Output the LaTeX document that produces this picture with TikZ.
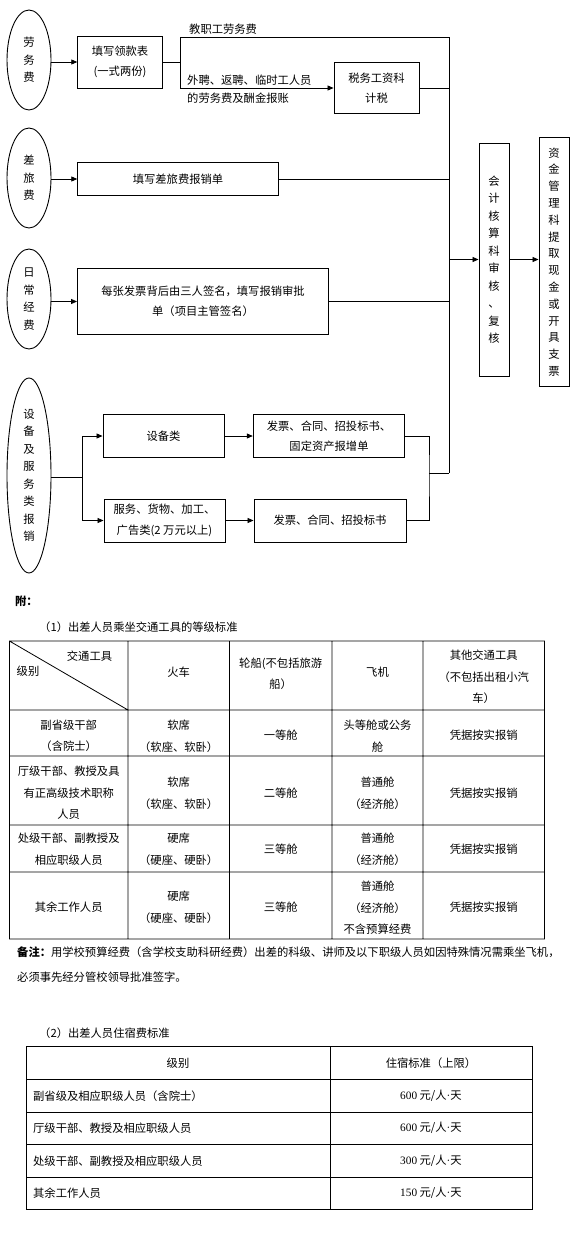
\documentclass[tikz,border=0pt]{standalone}
\usepackage{fontspec}
\setmainfont{Noto Sans CJK SC}
\newfontfamily\latinsz{Liberation Serif}
\usetikzlibrary{arrows.meta,shapes.geometric,positioning}

\newcommand\boxsz{\fontsize{11.3}{20.5}\selectfont}
\newcommand\colsz{\fontsize{11.3}{17.5}\selectfont}
\newcommand\cellsz{\fontsize{11.3}{21.5}\selectfont}
\newcommand\perday[1]{{\latinsz #1} 元/人{\latinsz ·}天}

\begin{document}
\begin{tikzpicture}[x=1pt,y=-1pt,
  box/.style={draw,line width=0.9pt,inner sep=0pt,align=center,font=\boxsz},
  oval/.style={draw,ellipse,line width=0.9pt,inner sep=0pt,minimum width=44pt,align=center,font=\colsz},
  col/.style={draw,line width=0.9pt,inner sep=0pt,minimum width=30pt,align=center,font=\colsz},
  link/.style={line width=0.8pt},
  arr/.style={line width=0.8pt,-{Triangle[length=6pt,width=5pt]}},
  cell/.style={inner sep=0pt,align=center,font=\cellsz},
  note/.style={inner sep=0pt,anchor=west,font=\boxsz}]
\fill[white] (0,0) rectangle (585,1240);

\node[oval,minimum height=100pt] (lwf) at (29,60) {劳\\务\\费};
\node[box,minimum width=84.5pt,minimum height=52pt] (lkb) at (120,62) {填写领款表\\(一式两份)};
\node[box,minimum width=85pt,minimum height=51.5pt] (sws) at (376.5,88) {税务工资科\\计税};
\node[oval,minimum height=100pt] (clf) at (29,178) {差\\旅\\费};
\node[box,minimum width=200.5pt,minimum height=33.5pt] (clb) at (178,179) {填写差旅费报销单};
\node[oval,minimum height=100pt] (rcf) at (29,299) {日\\常\\经\\费};
\node[box,minimum width=251pt,minimum height=66pt] (rcb) at (203,301.5) {每张发票背后由三人签名，填写报销审批\\单（项目主管签名）};
\node[oval,minimum height=195pt] (sbf) at (29,475.5) {设\\备\\及\\服\\务\\类\\报\\销};
\node[box,minimum width=121pt,minimum height=43pt] (sbl) at (163.5,436) {设备类};
\node[box,minimum width=151.5pt,minimum height=43pt] (fpa) at (329,436) {发票、合同、招投标书、\\固定资产报增单};
\node[box,minimum width=121pt,minimum height=43pt] (fwl) at (164.5,520.5) {服务、货物、加工、\\广告类(2 万元以上)};
\node[box,minimum width=152pt,minimum height=43pt] (fpb) at (330,520.5) {发票、合同、招投标书};
\node[col,minimum height=233pt] (kjk) at (494,259.5) {会\\计\\核\\算\\科\\审\\核\\、\\复\\核};
\node[col,minimum height=249.5pt,font=\fontsize{11.3}{16.8}\selectfont] (zjk) at (554,262) {资\\金\\管\\理\\科\\提\\取\\现\\金\\或\\开\\具\\支\\票};
\node[note] (jzg) at (189,29) {教职工劳务费};
\node[note,align=left,font=\fontsize{11.3}{17.5}\selectfont] (wpl) at (187,89) {外聘、返聘、临时工人员\\的劳务费及酬金报账};

\coordinate (br) at (180,62);
\coordinate (bt) at (180,37);
\coordinate (bb) at (180,88);
\coordinate (bus) at (449,37);
\coordinate (busb) at (449,473);
\coordinate (sp) at (82,477);
\coordinate (jn) at (429,473);

\draw[arr] (lkb.west -| lwf.east) -- (lkb.west);
\draw[link] (lkb) -- (br) (bt) -- (bb) (bt) -- (bus) -- (busb);
\draw[arr] (bb) -- (sws);
\draw[link] (sws) -- (sws -| bus);
\draw[arr] (clb.west -| clf.east) -- (clb.west);
\draw[link] (clb) -- (clb -| bus);
\draw[arr] (rcb.west -| rcf.east) -- (rcb.west);
\draw[link] (rcb) -- (rcb -| bus);
\draw[arr] (kjk.west -| bus) -- (kjk.west);
\draw[arr] (kjk.east) -- (kjk.east -| zjk.west);
\draw[link] (sp -| sbf.east) -- (sp);
\draw[arr] (sp) |- (sbl.west);
\draw[arr] (sp) |- (fwl.west);
\draw[arr] (sbl) -- (fpa);
\draw[arr] (fwl) -- (fpb);
\draw[link] (fpa) -| (jn) |- (fpb) (jn) -- (busb);

\node[note,font=\bfseries\boxsz] (fu) at (15,601) {附：};
\node[note] (tbla) at (39,627) {（1）出差人员乘坐交通工具的等级标准};
\draw[link] (9.4,641) rectangle (544.5,939)
  (9.4,710) -- (544.5,710) (9.4,756) -- (544.5,756)
  (9.4,825) -- (544.5,825) (9.4,872) -- (544.5,872)
  (128,641) -- (128,939) (229.5,641) -- (229.5,939)
  (332,641) -- (332,939) (423,641) -- (423,939)
  (9.4,641) -- (128,710);
\node[cell] (hjt) at (89.5,656) {交通工具};
\node[cell] (hjb) at (28,671) {级别};
\node[cell] (hhc) at (178.7,672) {火车};
\node[cell] (hlc) at (280.7,674) {轮船(不包括旅游\\船）};
\node[cell] (hfj) at (377.5,672) {飞机};
\node[cell] (hqt) at (483.7,677) {其他交通工具\\（不包括出租小汽\\车）};
\node[cell] (ra1) at (68.7,736) {副省级干部\\（含院士）};
\node[cell] (ra2) at (178.7,736) {软席\\（软座、软卧）};
\node[cell] (ra3) at (280.7,735) {一等舱};
\node[cell] (ra4) at (377.5,736) {头等舱或公务\\舱};
\node[cell] (ra5) at (483.7,735) {凭据按实报销};
\node[cell] (rb1) at (68.7,793) {厅级干部、教授及具\\有正高级技术职称\\人员};
\node[cell] (rb2) at (178.7,793) {软席\\（软座、软卧）};
\node[cell] (rb3) at (280.7,793) {二等舱};
\node[cell] (rb4) at (377.5,793) {普通舱\\（经济舱）};
\node[cell] (rb5) at (483.7,793) {凭据按实报销};
\node[cell] (rc1) at (68.7,849) {处级干部、副教授及\\相应职级人员};
\node[cell] (rc2) at (178.7,849) {硬席\\（硬座、硬卧）};
\node[cell] (rc3) at (280.7,849) {三等舱};
\node[cell] (rc4) at (377.5,849) {普通舱\\（经济舱）};
\node[cell] (rc5) at (483.7,849) {凭据按实报销};
\node[cell] (rd1) at (68.7,907) {其余工作人员};
\node[cell] (rd2) at (178.7,907) {硬席\\（硬座、硬卧）};
\node[cell] (rd3) at (280.7,907) {三等舱};
\node[cell] (rd4) at (377.5,908) {普通舱\\（经济舱）\\不含预算经费};
\node[cell] (rd5) at (483.7,907) {凭据按实报销};
\node[note] (bza) at (17,952) {\textbf{备注：}用学校预算经费（含学校支助科研经费）出差的科级、讲师及以下职级人员如因特殊情况需乘坐飞机，};
\node[note] (bzb) at (17,977) {必须事先经分管校领导批准签字。};

\node[note] (tblb) at (39,1033) {（2）出差人员住宿费标准};
\draw[link] (26,1046) rectangle (532,1209)
  (26,1079) -- (532,1079) (26,1112) -- (532,1112)
  (26,1144) -- (532,1144) (26,1177) -- (532,1177)
  (330,1046) -- (330,1209);
\node[cell] (sjb) at (178,1063) {级别};
\node[cell] (szs) at (431,1063) {住宿标准（上限）};
\node[note] (sa1) at (33,1096) {副省级及相应职级人员（含院士）};
\node[cell] (sa2) at (431,1096) {\perday{600}};
\node[note] (sb1) at (33,1128) {厅级干部、教授及相应职级人员};
\node[cell] (sb2) at (431,1128) {\perday{600}};
\node[note] (sc1) at (33,1161) {处级干部、副教授及相应职级人员};
\node[cell] (sc2) at (431,1161) {\perday{300}};
\node[note] (sd1) at (33,1193) {其余工作人员};
\node[cell] (sd2) at (431,1193) {\perday{150}};
\end{tikzpicture}
\end{document}
